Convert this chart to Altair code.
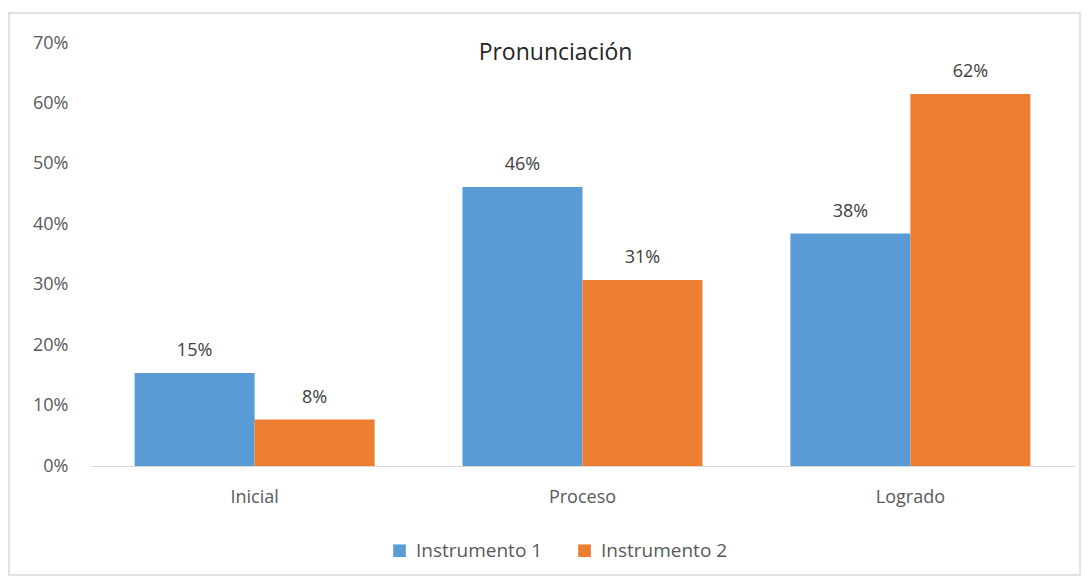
import altair as alt
import pandas as pd

categories = ["Inicial", "Proceso", "Logrado"]
series = ["Instrumento 1", "Instrumento 2"]
instrumento_1 = [0.1538, 0.4615, 0.3846]
instrumento_2 = [0.0769, 0.3077, 0.6154]
y_ticks = [0, 0.1, 0.2, 0.3, 0.4, 0.5, 0.6, 0.7]
colors = ["#5B9BD5", "#ED7D31"]

rows = []
for c, v1, v2 in zip(categories, instrumento_1, instrumento_2):
    rows.append({"cat": c, "serie": series[0], "value": v1})
    rows.append({"cat": c, "serie": series[1], "value": v2})
df = pd.DataFrame(rows)

FONT = "Open Sans"

base = alt.Chart(df).encode(
    x=alt.X("cat:N", sort=categories, title=None,
            scale=alt.Scale(paddingInner=0.268, paddingOuter=0.136),
            axis=alt.Axis(labelAngle=0, ticks=False, domainColor="#d9d9d9",
                          labelFontSize=18, labelColor="#595959", labelPadding=22,
                          labelFont=FONT)),
    xOffset=alt.XOffset("serie:N", sort=series),
    y=alt.Y("value:Q", title=None,
            scale=alt.Scale(domain=[0, 0.7]),
            axis=alt.Axis(values=y_ticks, format=".0%", grid=False, domain=False,
                          ticks=False, labelFontSize=18, labelColor="#595959",
                          labelPadding=22, labelFont=FONT)),
)

bars = base.mark_bar().encode(
    color=alt.Color("serie:N", sort=series,
                    scale=alt.Scale(domain=series, range=colors),
                    legend=alt.Legend(title=None, orient="none", direction="horizontal",
                                      legendX=300, legendY=498, symbolType="square",
                                      symbolSize=160, symbolStrokeWidth=0,
                                      labelFontSize=19, labelColor="#595959",
                                      labelFont=FONT, columnPadding=32,
                                      symbolOffset=0, labelOffset=7))
)

labels = base.mark_text(baseline="bottom", dy=-13, fontSize=18, color="#404040",
                        font=FONT).encode(
    text=alt.Text("value:Q", format=".0%")
)

border = alt.Chart(pd.DataFrame({"a": [0]})).mark_rect(
    fill="transparent", stroke="#d9d9d9", strokeWidth=1.5
).encode(
    x=alt.value(-81), x2=alt.value(990), y=alt.value(-30), y2=alt.value(532)
)

chart = alt.layer(border, bars, labels).properties(
    width=985, height=423,
    autosize=alt.AutoSizeParams(type="none"),
    padding={"left": 82, "top": 35, "right": 7, "bottom": 110},
    background="white",
    title=alt.TitleParams("Pronunciación", anchor="middle", frame="group",
                          fontSize=23, fontWeight="normal", color="#262626",
                          font=FONT, dx=-27, dy=53, offset=0),
).configure_view(strokeWidth=0)

chart.save("out.html", embed_options={"renderer": "svg", "actions": False})
